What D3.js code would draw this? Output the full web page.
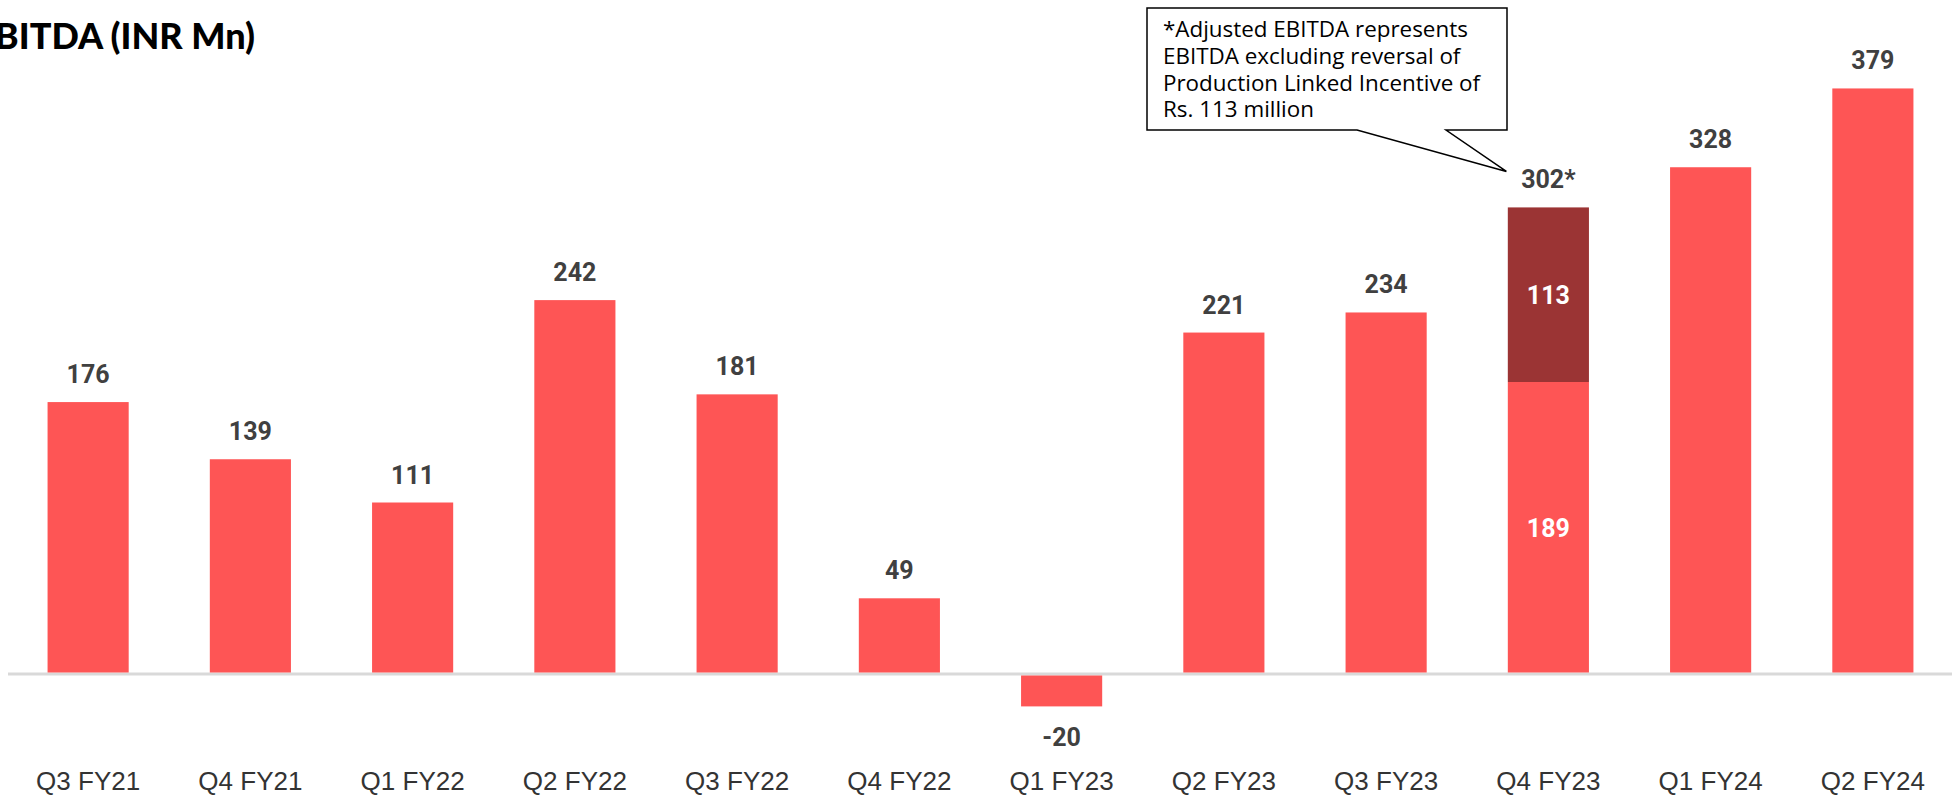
<!DOCTYPE html>
<html>
<head>
<meta charset="utf-8">
<script src="https://cdn.jsdelivr.net/npm/d3@7"></script>
<style>
  html, body { margin: 0; padding: 0; background: #fff; }
  svg { display: block; }
</style>
</head>
<body>
<svg id="chart" width="1960" height="797"></svg>
<script>
// quarterly EBITDA, INR Mn
const quarters = ["Q3 FY21", "Q4 FY21", "Q1 FY22", "Q2 FY22", "Q3 FY22", "Q4 FY22",
  "Q1 FY23", "Q2 FY23", "Q3 FY23", "Q4 FY23", "Q1 FY24", "Q2 FY24"];
const ebitda = [176, 139, 111, 242, 181, 49, -20, 221, 234, 302, 328, 379];
// PLI reversal part (only Q4 FY23)
const pliReversal = [0, 0, 0, 0, 0, 0, 0, 0, 0, 113, 0, 0];
const adjustedMark = ["", "", "", "", "", "", "", "", "", "*", "", ""];
const noteLines = [
  "*Adjusted EBITDA represents",
  "EBITDA excluding reversal of",
  "Production Linked Incentive of",
  "Rs. 113 million"
];

const W = 1960, H = 797;
const RED = "#fe5555", DARK = "#9b3434", LABEL = "#404040";

let svg = d3.select("#chart");

let data = quarters.map((q, i) => ({
  q: q,
  total: ebitda[i],
  pli: pliReversal[i],
  base: ebitda[i] - pliReversal[i],
  mark: adjustedMark[i]
}));

let x = d3.scaleBand()
  .domain(quarters)
  .range([7, 1954])
  .paddingInner(0.5)
  .paddingOuter(0.25);

let y = d3.scaleLinear()
  .domain([0, 400])
  .range([674, 56]);

// baseline
svg.append("line")
  .attr("x1", 8).attr("x2", 1952)
  .attr("y1", y(0)).attr("y2", y(0))
  .attr("stroke", "#d9d9d9")
  .attr("stroke-width", 3);

let g = svg.selectAll(".bar").data(data).enter().append("g").attr("class", "bar");

// base bar (whole value, except reversal part)
g.append("rect")
  .attr("x", (d) => x(d.q))
  .attr("width", x.bandwidth())
  .attr("y", (d) => (d.base >= 0 ? y(d.base) : y(0) + 1.5))
  .attr("height", (d) => Math.abs(y(d.base) - y(0)) - (d.base >= 0 ? 1.5 : 0))
  .attr("fill", RED);

// reversal segment
g.filter((d) => d.pli > 0)
  .append("rect")
  .attr("x", (d) => x(d.q))
  .attr("width", x.bandwidth())
  .attr("y", (d) => y(d.total))
  .attr("height", (d) => y(d.base) - y(d.total))
  .attr("fill", DARK);

// value labels outside bars
g.append("text")
  .attr("x", (d) => x(d.q) + x.bandwidth() / 2)
  .attr("y", (d) => (d.total >= 0 ? y(d.total) - 19 : y(d.total) + 41))
  .attr("text-anchor", "middle")
  .attr("font-family", "Roboto, 'Liberation Sans', sans-serif")
  .attr("font-weight", 700)
  .attr("font-size", 25)
  .attr("fill", LABEL)
  .text((d) => d.total + d.mark);

// inner labels for split bar
let split = g.filter((d) => d.pli > 0);
split.append("text")
  .attr("x", (d) => x(d.q) + x.bandwidth() / 2)
  .attr("y", (d) => (y(d.total) + y(d.base)) / 2 + 9)
  .attr("text-anchor", "middle")
  .attr("font-family", "Roboto, sans-serif")
  .attr("font-weight", 700)
  .attr("font-size", 25)
  .attr("fill", "#fff")
  .text((d) => d.pli);
split.append("text")
  .attr("x", (d) => x(d.q) + x.bandwidth() / 2)
  .attr("y", (d) => (y(d.base) + y(0)) / 2 + 9)
  .attr("text-anchor", "middle")
  .attr("font-family", "Roboto, sans-serif")
  .attr("font-weight", 700)
  .attr("font-size", 25)
  .attr("fill", "#fff")
  .text((d) => d.base);

// category axis
let xAxis = d3.axisBottom(x).tickSize(0).tickPadding(0);
let ax = svg.append("g")
  .attr("transform", "translate(0," + 790 + ")")
  .call(xAxis);
ax.select(".domain").remove();
ax.selectAll(".tick text")
  .attr("dy", 0)
  .attr("y", 0)
  .attr("font-family", "'Liberation Sans', Arial, sans-serif")
  .attr("font-size", 26)
  .attr("fill", "#333");

// title (cropped at the left edge like the slide)
svg.append("text")
  .attr("x", 255)
  .attr("y", 49)
  .attr("text-anchor", "end")
  .attr("font-family", "Lato, sans-serif")
  .attr("font-weight", 900)
  .attr("font-size", 36)
  .attr("fill", "#000")
  .text("EBITDA (INR Mn)");

// callout note
let q4 = data[9];
let tipX = x(q4.q) + x.bandwidth() / 2 - 42, tipY = y(q4.total) - 36;
let bx0 = 1147, bx1 = 1507, by0 = 8, by1 = 130;
svg.append("path")
  .attr("d", `M${bx0},${by0}H${bx1}V${by1}H1446L${tipX},${tipY}L1357,${by1}H${bx0}Z`)
  .attr("fill", "#fff")
  .attr("stroke", "#000")
  .attr("stroke-width", 1.5);

svg.append("g").selectAll("text").data(noteLines).enter().append("text")
  .attr("x", 1163)
  .attr("y", (d, i) => 37 + i * 26.8)
  .attr("font-family", "'Open Sans', sans-serif")
  .attr("font-size", 22.4)
  .attr("fill", "#000")
  .text((d) => d);
</script>
</body>
</html>
